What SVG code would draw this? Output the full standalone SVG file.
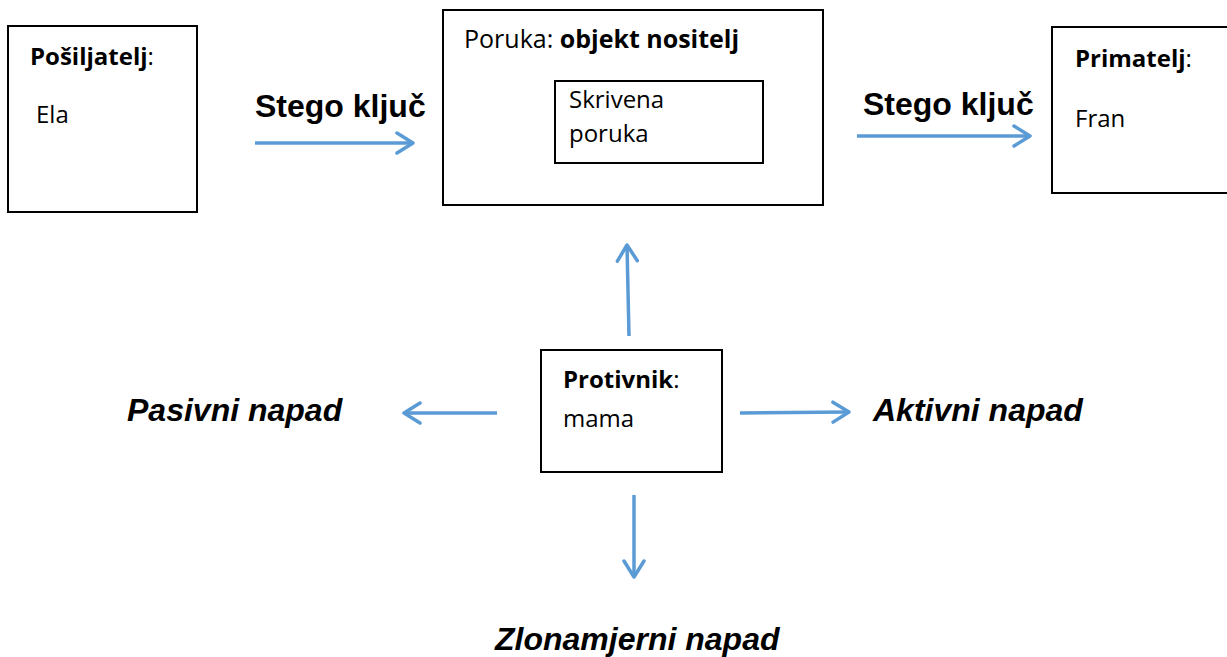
<svg xmlns="http://www.w3.org/2000/svg" width="1227" height="657" viewBox="0 0 1227 657">
<style>
.box{fill:#fff;stroke:#000;stroke-width:2}
.t{font-family:"Open Sans","Liberation Sans",sans-serif;font-size:24px;fill:#000}
.b{font-weight:bold}
.lab{font-family:"Liberation Sans",Arial,sans-serif;font-size:32px;font-weight:bold;fill:#000}
.it{font-style:italic}
.ar{fill:none;stroke:#5B9BD5;stroke-width:3.5;marker-end:url(#h)}
</style>
<defs>
<marker id="h" viewBox="0 0 20 24" refX="18" refY="12" markerWidth="20" markerHeight="24" markerUnits="userSpaceOnUse" orient="auto">
<path d="M2,2 L18,12 L2,22" fill="none" stroke="#5B9BD5" stroke-width="3.5" stroke-linecap="round" stroke-linejoin="round"/>
</marker>
</defs>
<rect width="1227" height="657" fill="#fff"/>
<g id="posiljatelj">
<rect class="box" x="8" y="26" width="189" height="186"/>
<text class="t" x="30" y="65"><tspan class="b">Pošiljatelj</tspan>:</text>
<text class="t" x="36" y="123">Ela</text>
</g>
<g id="poruka">
<rect class="box" x="443" y="10" width="380" height="195"/>
<text class="t" x="464" y="48" style="font-size:25px">Poruka: <tspan class="b">objekt nositelj</tspan></text>
<rect class="box" x="555" y="81" width="208" height="82"/>
<text class="t" x="569" y="108">Skrivena</text>
<text class="t" x="569" y="142">poruka</text>
</g>
<g id="primatelj">
<rect class="box" x="1052" y="27" width="180" height="166"/>
<text class="t" x="1075" y="67"><tspan class="b">Primatelj</tspan>:</text>
<text class="t" x="1075" y="127">Fran</text>
</g>
<g id="protivnik">
<rect class="box" x="541" y="350" width="181" height="122"/>
<text class="t" x="563" y="388"><tspan class="b">Protivnik</tspan>:</text>
<text class="t" x="563" y="427">mama</text>
</g>
<g id="labels">
<text class="lab" x="255" y="117">Stego ključ</text>
<text class="lab" x="863" y="115">Stego ključ</text>
<text class="lab it" x="127" y="421">Pasivni napad</text>
<text class="lab it" x="873" y="421">Aktivni napad</text>
<text class="lab it" x="495" y="650">Zlonamjerni napad</text>
</g>
<g id="connectors">
<path class="ar" d="M255,143 L413,143"/>
<path class="ar" d="M857,136 L1030,136"/>
<path class="ar" d="M629,336 L627,245"/>
<path class="ar" d="M497,413 L404,413"/>
<path class="ar" d="M740,413 L849,412"/>
<path class="ar" d="M634,495 L634,577"/>
</g>
</svg>
